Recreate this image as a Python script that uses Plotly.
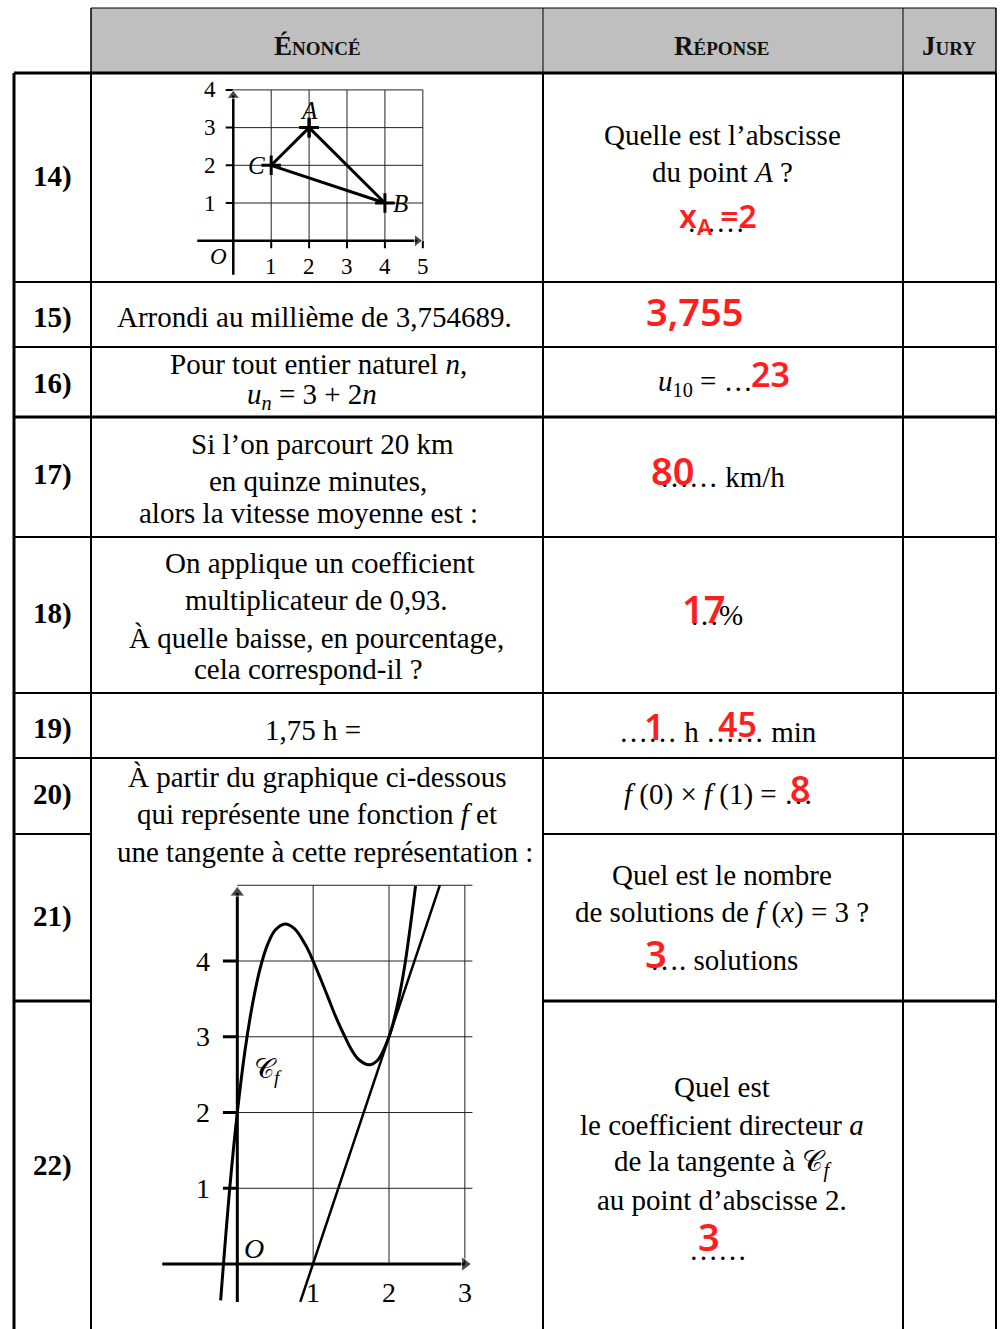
import plotly.graph_objects as go

W, H = 1001, 1329
SERIF = "Liberation Serif"
HAND = "Noto Sans"
RED = "#ff1e1e"

# ---- data ----
# exercise 14: triangle
tri_names = ["A", "B", "C"]
tri_x = [2, 4, 1]
tri_y = [3, 1, 2]
tri_grid_x = [1, 2, 3, 4, 5]
tri_grid_y = [1, 2, 3, 4]

# exercises 20-22: curve Cf and its tangent at x = 2
cf_x = [-0.22, -0.1, 0, 0.1, 0.2, 0.3, 0.4, 0.5, 0.63, 0.75, 0.9, 1.0, 1.1, 1.2,
        1.3, 1.4, 1.5, 1.6, 1.74, 1.85, 2.0, 2.1, 2.2, 2.35]
cf_y = [-0.48, 1.0, 2.0, 2.81, 3.43, 3.9, 4.22, 4.41, 4.49, 4.43, 4.21, 4.0, 3.76,
        3.51, 3.26, 3.04, 2.84, 2.7, 2.63, 2.69, 3.0, 3.37, 3.89, 4.99]
tan_x = [0.83, 2.67]
tan_y = [-0.5, 5.0]
f_grid_x = [1, 2, 3]
f_grid_y = [1, 2, 3, 4, 5]
f_ticks_y = [1, 2, 3, 4]
f_ticks_x = [1, 2, 3]

row_labels = ["14)", "15)", "16)", "17)", "18)", "19)", "20)", "21)", "22)"]
row_label_y = [176, 317, 383, 474, 613, 728, 794, 916, 1165]

fig = go.Figure()


def txt(x, y, s, size=29, color="black", family=SERIF, ref="", weight="normal"):
    fig.add_annotation(x=x, y=y, text=s, showarrow=False, xref="x" + ref, yref="y" + ref,
                       font=dict(size=size, color=color, family=family, weight=weight))


def hand(x, y, s, size=36):
    txt(x, y, s, size=size, color=RED, family=HAND, weight=600)


def hline(y, x0, x1, w):
    fig.add_shape(type="line", x0=x0, x1=x1, y0=y, y1=y, xref="x", yref="y",
                  line=dict(color="black", width=w))


def vline(x, y0, y1, w):
    fig.add_shape(type="line", x0=x, x1=x, y0=y0, y1=y1, xref="x", yref="y",
                  line=dict(color="black", width=w))


def axis_arrow(x0, y0, x1, y1, ref, w, head):
    fig.add_trace(go.Scatter(x=[x0, x1], y=[y0, y1], mode="lines+markers",
                             xaxis="x" + ref, yaxis="y" + ref,
                             line=dict(color="black", width=w),
                             marker=dict(symbol="triangle-up", angleref="previous",
                                         size=[0, head], color="black"),
                             hoverinfo="skip"))


# ---- table frame (pixel coordinates) ----
fig.add_shape(type="rect", x0=91, x1=996, y0=8, y1=73, xref="x", yref="y",
              fillcolor="#bfbfbf", line=dict(color="black", width=1), layer="below")
vline(14, 73, H, 3)
for xv in [91, 543, 903, 996]:
    vline(xv, 8, 73, 1)
    vline(xv, 73, H, 2)
hline(73, 14, 996, 3)
for yv, w in [(282, 2), (347, 2), (417, 3), (537, 2), (693, 2), (758, 2)]:
    hline(yv, 14, 996, w)
for yv, w in [(834, 2), (1001, 3)]:
    hline(yv, 14, 91, w)
    hline(yv, 543, 996, w)

# header
for xc, s in [(317, "Énoncé"), (722, "Réponse"), (949, "Jury")]:
    fig.add_annotation(x=xc, y=46, text="<b>%s</b>" % s, showarrow=False, xref="x", yref="y",
                       font=dict(size=27, family=SERIF, color="#111", variant="small-caps"))

for s, yv in zip(row_labels, row_label_y):
    txt(52, yv, "<b>%s</b>" % s, size=29)

# ---- énoncés ----
txt(314, 317, "Arrondi au millième de 3,754689.")
txt(318, 364, "Pour tout entier naturel <i>n</i>,")
txt(312, 396, "<i>u<sub>n</sub></i> = 3 + 2<i>n</i>")
txt(322, 444, "Si l’on parcourt 20 km")
txt(318, 481, "en quinze minutes,")
txt(308, 513, "alors la vitesse moyenne est :")
txt(320, 563, "On applique un coefficient")
txt(316, 600, "multiplicateur de 0,93.")
txt(316, 638, "À quelle baisse, en pourcentage,")
txt(308, 669, "cela correspond-il ?")
txt(313, 730, "1,75 h =")
txt(317, 777, "À partir du graphique ci-dessous")
txt(317, 814, "qui représente une fonction <i>f</i> et")
txt(325, 852, "une tangente à cette représentation :")

# ---- réponses ----
txt(722, 135, "Quelle est l’abscisse")
txt(722, 172, "du point <i>A</i> ?")
txt(716, 222, "……")
txt(705, 383, "<i>u</i><sub>10</sub> = …")
txt(722, 477, "…… km/h")
txt(716, 615, "…%")
txt(718, 732, "…… h …… min")
txt(718, 794, "<i>f</i> (0) × <i>f</i> (1) = …")
txt(722, 875, "Quel est le nombre")
txt(722, 912, "de solutions de <i>f</i> (<i>x</i>) = 3 ?")
txt(724, 960, "…. solutions")
txt(722, 1087, "Quel est")
txt(722, 1125, "le coefficient directeur <i>a</i>")
txt(722, 1163, "de la tangente à 𝒞<sub><i>f</i></sub>")
txt(722, 1200, "au point d’abscisse 2.")
txt(718, 1250, "……")

# handwritten answers
hand(718, 218, "x<sub>A</sub> =2", 32)
hand(695, 311, "3,755", 38)
hand(770, 374, "23", 34)
hand(672, 470, "80", 38)
hand(703, 608, "17", 38)
hand(654, 726, "1", 36)
hand(737, 724, "45", 34)
hand(800, 788, "8", 36)
hand(656, 953, "3", 38)
hand(709, 1236, "3", 38)

# ---- exercise 14 graph (axes x2/y2) ----
seg_x, seg_y = [], []
for g in tri_grid_x:
    seg_x += [g, g, None]
    seg_y += [0, tri_grid_y[-1], None]
for g in tri_grid_y:
    seg_x += [0, tri_grid_x[-1], None]
    seg_y += [g, g, None]
fig.add_trace(go.Scatter(x=seg_x, y=seg_y, mode="lines", xaxis="x2", yaxis="y2",
                         line=dict(color="#222", width=1), hoverinfo="skip"))
tk_x, tk_y = [], []
for g in tri_grid_y:
    tk_x += [-0.2, 0, None]
    tk_y += [g, g, None]
for g in tri_grid_x:
    tk_x += [g, g, None]
    tk_y += [-0.2, 0, None]
fig.add_trace(go.Scatter(x=tk_x, y=tk_y, mode="lines", xaxis="x2", yaxis="y2",
                         line=dict(color="black", width=2), hoverinfo="skip"))
fig.add_trace(go.Scatter(x=tri_x + tri_x[:1], y=tri_y + tri_y[:1], mode="lines+markers",
                         xaxis="x2", yaxis="y2", line=dict(color="black", width=3),
                         marker=dict(symbol="cross-thin", size=14,
                                     line=dict(color="black", width=3)),
                         hoverinfo="skip"))
axis_arrow(-0.95, 0, 4.85, 0, "2", 2.5, 11)
axis_arrow(0, -0.9, 0, 3.85, "2", 2.5, 11)
for g in tri_grid_x:
    txt(g, -0.68, str(g), size=23, ref="2")
for g in tri_grid_y:
    txt(-0.62, g, str(g), size=23, ref="2")
txt(-0.4, -0.42, "<i>O</i>", size=23, ref="2")
lab_off = {"A": (0, 0.45), "B": (0.4, 0), "C": (-0.38, 0)}
for n, x_, y_ in zip(tri_names, tri_x, tri_y):
    dx, dy = lab_off[n]
    txt(x_ + dx, y_ + dy, "<i>%s</i>" % n, size=25, ref="2")

# ---- exercises 20-22 graph (axes x3/y3) ----
seg_x, seg_y = [], []
for g in f_grid_x:
    seg_x += [g, g, None]
    seg_y += [0, f_grid_y[-1], None]
for g in f_grid_y:
    seg_x += [0, 3.1, None]
    seg_y += [g, g, None]
fig.add_trace(go.Scatter(x=seg_x, y=seg_y, mode="lines", xaxis="x3", yaxis="y3",
                         line=dict(color="#222", width=1), hoverinfo="skip"))
tk_x, tk_y = [], []
for g in f_ticks_y:
    tk_x += [-0.19, 0, None]
    tk_y += [g, g, None]
fig.add_trace(go.Scatter(x=tk_x, y=tk_y, mode="lines", xaxis="x3", yaxis="y3",
                         line=dict(color="black", width=3), hoverinfo="skip"))
fig.add_trace(go.Scatter(x=cf_x, y=cf_y, mode="lines", xaxis="x3", yaxis="y3",
                         line=dict(color="black", width=3, shape="spline"),
                         hoverinfo="skip"))
fig.add_trace(go.Scatter(x=tan_x, y=tan_y, mode="lines", xaxis="x3", yaxis="y3",
                         line=dict(color="black", width=2.5), hoverinfo="skip"))
axis_arrow(-0.99, 0, 3.0, 0, "3", 3, 13)
axis_arrow(0, -0.5, 0, 4.9, "3", 3, 13)
for g in f_ticks_y:
    txt(-0.45, g, str(g), size=28, ref="3")
for g in f_ticks_x:
    txt(g, -0.38, str(g), size=28, ref="3")
txt(0.22, 0.2, "<i>O</i>", size=28, ref="3")
txt(0.4, 2.55, "𝒞<sub><i>f</i></sub>", size=28, ref="3")

hidden = dict(visible=False, showgrid=False, zeroline=False, fixedrange=True)
fig.update_layout(
    width=W, height=H, margin=dict(l=0, r=0, t=0, b=0),
    paper_bgcolor="white", plot_bgcolor="rgba(0,0,0,0)", showlegend=False,
    xaxis=dict(range=[0, W], domain=[0, 1], **hidden),
    yaxis=dict(range=[H, 0], domain=[0, 1], **hidden),
    xaxis2=dict(range=[-1.2, 5.3], domain=[187.8 / W, 434.2 / W], anchor="y2", **hidden),
    yaxis2=dict(range=[-1.0, 4.3], domain=[(H - 278.4) / H, (H - 78.6) / H],
                anchor="x2", **hidden),
    xaxis3=dict(range=[-1.1, 3.2], domain=[153.9 / W, 480.0 / W], anchor="y3", **hidden),
    yaxis3=dict(range=[-0.6, 5.1], domain=[(H - 1309.5) / H, (H - 877.7) / H],
                anchor="x3", **hidden),
)

fig.write_html("out.html", config={"displayModeBar": False},
               post_script="document.body.style.margin='0';")
